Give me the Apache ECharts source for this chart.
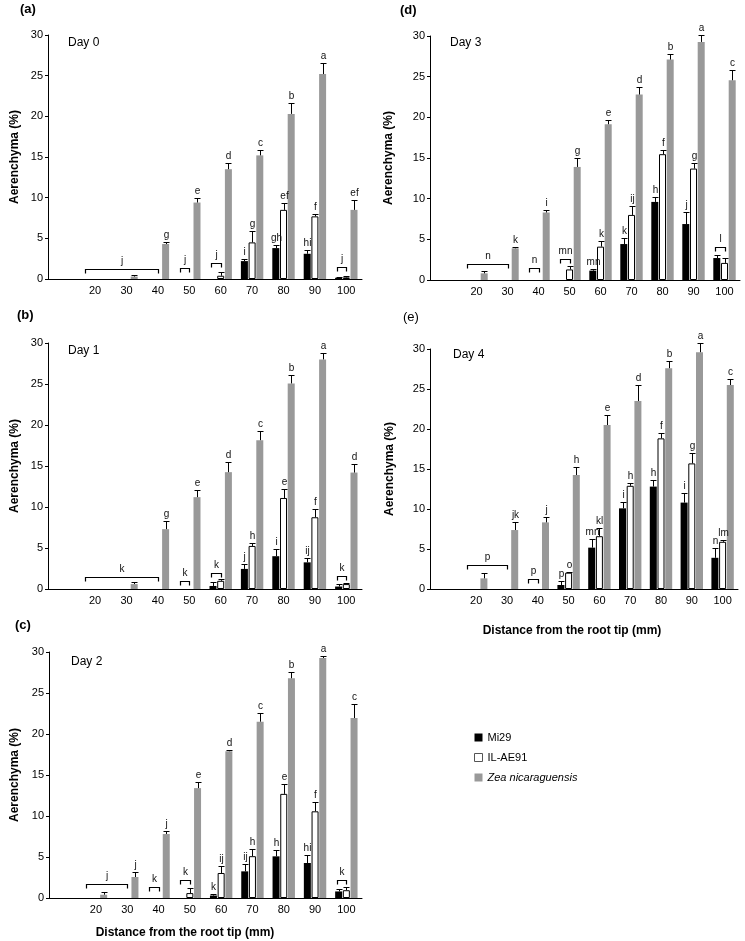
<!DOCTYPE html>
<html>
<head>
<meta charset="utf-8">
<script src="https://cdn.jsdelivr.net/npm/echarts@6/dist/echarts.min.js"></script>
<style>
  html, body { margin: 0; padding: 0; background: #fff; }
  #chart { width: 745px; height: 941px; }
</style>
</head>
<body>
<div id="chart"></div>
<script>
// distance from root tip (mm), first slot of the axis is left empty
const distances = ['20', '30', '40', '50', '60', '70', '80', '90', '100']
const seriesNames = ['Mi29', 'IL-AE91', 'Zea nicaraguensis']

// Day 0 : rows = Mi29, IL-AE91, Zea nicaraguensis
const day0Mean = [
  [0, 0, 0, 0, 0, 2.2, 3.8, 3.1, 0.15],
  [0, 0, 0, 0, 0.4, 4.5, 8.5, 7.7, 0.2],
  [0, 0.3, 4.3, 9.4, 13.5, 15.2, 20.3, 25.2, 8.5]
]
const day0Err = [
  [0, 0, 0, 0, 0, 0.3, 0.4, 0.5, 0.15],
  [0, 0, 0, 0, 0.4, 1.4, 0.8, 0.35, 0.15],
  [0, 0.2, 0.2, 0.55, 0.8, 0.6, 1.4, 1.4, 1.2]
]
const day0Letters = [
  ['', '', '', '', '', 'i', 'gh', 'hi', ''],
  ['', '', '', '', '', 'g', 'ef', 'f', ''],
  ['', '', 'g', 'e', 'd', 'c', 'b', 'a', 'ef']
]
// [from, to, height, letter]
const day0Brackets = [['20', '40', 1.2, 'j'], ['50', '50', 1.35, 'j'], ['60', '60', 2.0, 'j'], ['100', '100', 1.45, 'j']]

// Day 1
const day1Mean = [
  [0, 0, 0, 0, 0.37, 2.45, 4.0, 3.25, 0.3],
  [0, 0, 0, 0, 1.0, 5.25, 11.1, 8.75, 0.6],
  [0, 0.6, 7.3, 11.2, 14.25, 18.15, 25.07, 28.0, 14.2]
]
const day1Err = [
  [0, 0, 0, 0, 0.45, 0.65, 0.85, 0.5, 0.25],
  [0, 0, 0, 0, 0.2, 0.4, 1.1, 0.95, 0.1],
  [0, 0.25, 1.0, 0.9, 1.25, 1.1, 1.0, 0.8, 1.05]
]
const day1Letters = [
  ['', '', '', '', '', 'j', 'i', 'ij', ''],
  ['', '', '', '', '', 'h', 'e', 'f', ''],
  ['', '', 'g', 'e', 'd', 'c', 'b', 'a', 'd']
]
const day1Brackets = [['20', '40', 1.5, 'k'], ['50', '50', 1.0, 'k'], ['60', '60', 1.9, 'k'], ['100', '100', 1.6, 'k']]

// Day 2
const day2Mean = [
  [0, 0, 0, 0, 0.3, 3.25, 5.08, 4.27, 0.8],
  [0, 0, 0, 0.6, 3.05, 5.1, 12.7, 10.57, 0.95],
  [0.4, 2.56, 7.8, 13.4, 17.9, 21.5, 26.8, 29.27, 21.95]
]
const day2Err = [
  [0, 0, 0, 0, 0.2, 0.85, 0.8, 0.97, 0.3],
  [0, 0, 0, 0.6, 0.8, 0.9, 1.2, 1.1, 0.4],
  [0.37, 0.55, 0.4, 0.8, 0.2, 1.05, 0.75, 0.28, 1.7]
]
const day2Letters = [
  ['', '', '', '', 'k', 'ij', 'h', 'hi', ''],
  ['', '', '', '', 'ij', 'h', 'e', 'f', ''],
  ['', 'j', 'j', 'e', 'd', 'c', 'b', 'a', 'c']
]
const day2Brackets = [['20', '30', 1.75, 'j'], ['40', '40', 1.4, 'k'], ['50', '50', 2.2, 'k'], ['100', '100', 2.15, 'k']]

// Day 3
const day3Mean = [
  [0, 0, 0, 0, 1.15, 4.42, 9.6, 6.88, 2.7],
  [0, 0, 0, 1.3, 4.1, 8.0, 15.47, 13.7, 2.1],
  [0.82, 3.9, 8.3, 13.9, 19.15, 22.8, 27.1, 29.27, 24.56]
]
const day3Err = [
  [0, 0, 0, 0, 0.15, 0.7, 0.65, 1.5, 0.35],
  [0, 0, 0, 0.4, 0.7, 1.1, 0.55, 0.67, 0.6],
  [0.33, 0.2, 0.3, 1.1, 0.5, 0.95, 0.7, 0.9, 1.3]
]
const day3Letters = [
  ['', '', '', '', 'mn', 'k', 'h', 'j', ''],
  ['', '', '', '', 'k', 'ij', 'f', 'g', ''],
  ['', 'k', 'i', 'g', 'e', 'd', 'b', 'a', 'c']
]
const day3Brackets = [['20', '30', 1.96, 'n'], ['40', '40', 1.43, 'n'], ['50', '50', 2.54, 'mn'], ['100', '100', 4.1, 'l']]

// Day 4
const day4Mean = [
  [0, 0, 0, 0.5, 5.17, 10.08, 12.8, 10.8, 3.9],
  [0, 0, 0, 2.04, 6.6, 12.9, 18.83, 15.7, 5.9],
  [1.33, 7.37, 8.33, 14.25, 20.5, 23.5, 27.6, 29.6, 25.5]
]
const day4Err = [
  [0, 0, 0, 0.5, 1.08, 0.82, 0.8, 1.16, 1.18],
  [0, 0, 0, 0.05, 1.0, 0.4, 0.67, 1.26, 0.2],
  [0.63, 0.96, 0.71, 1.05, 1.25, 2.0, 0.9, 1.2, 0.75]
]
const day4Letters = [
  ['', '', '', 'p', 'mn', 'i', 'h', 'i', 'n'],
  ['', '', '', 'o', 'kl', 'h', 'f', 'g', 'lm'],
  ['', 'jk', 'j', 'h', 'e', 'd', 'b', 'a', 'c']
]
const day4Brackets = [['20', '30', 3.0, 'p'], ['40', '40', 1.25, 'p']]

const categories = [''].concat(distances)
const colors = ['#000000', '#ffffff', '#999999']
const FONT = 'Liberation Sans, Arial, sans-serif'
const BAR_W = 7
const GAP = 0.1

// where each panel sits on the page
const panels = [
  { tag: '(a)', day: 'Day 0', mean: day0Mean, err: day0Err, letters: day0Letters, brackets: day0Brackets,
    grid: { left: 48, top: 35, width: 314, height: 244 }, tagPos: [20, 9], dayPos: [68, 43], nameGap: 27, bold: true },
  { tag: '(b)', day: 'Day 1', mean: day1Mean, err: day1Err, letters: day1Letters, brackets: day1Brackets,
    grid: { left: 48, top: 343, width: 314, height: 246 }, tagPos: [17, 315], dayPos: [68, 351], nameGap: 27, bold: true },
  { tag: '(c)', day: 'Day 2', mean: day2Mean, err: day2Err, letters: day2Letters, brackets: day2Brackets,
    grid: { left: 49, top: 652, width: 313, height: 246 }, tagPos: [15, 625], dayPos: [71, 662], nameGap: 28, bold: true },
  { tag: '(d)', day: 'Day 3', mean: day3Mean, err: day3Err, letters: day3Letters, brackets: day3Brackets,
    grid: { left: 430, top: 36, width: 310, height: 244 }, tagPos: [400, 10], dayPos: [450, 43], nameGap: 35, bold: true },
  { tag: '(e)', day: 'Day 4', mean: day4Mean, err: day4Err, letters: day4Letters, brackets: day4Brackets,
    grid: { left: 430, top: 349, width: 308, height: 240 }, tagPos: [403, 317], dayPos: [453, 355], nameGap: 34, bold: false }
]

function slotOffset (s) {
  return (s - 1) * BAR_W * (1 + GAP)
}
function px (v) {
  return Math.round(v) + 0.5
}

const chart = echarts.init(document.getElementById('chart'))
const grids = []
const xAxes = []
const yAxes = []
const series = []
const graphics = []

panels.forEach((p, pi) => {
  grids.push(p.grid)
  xAxes.push({
    type: 'category',
    gridIndex: pi,
    data: categories,
    axisLine: { lineStyle: { color: '#000', width: 1 } },
    axisTick: { inside: true, length: 3, interval: 0, lineStyle: { color: '#000' } },
    axisLabel: { interval: 0, fontSize: 11, color: '#000', margin: 6, fontFamily: FONT }
  })
  yAxes.push({
    type: 'value',
    gridIndex: pi,
    min: 0,
    max: 30,
    interval: 5,
    name: 'Aerenchyma (%)',
    nameLocation: 'middle',
    nameGap: p.nameGap,
    nameTextStyle: { fontSize: 12, fontWeight: 'bold', color: '#000', fontFamily: FONT },
    axisLine: { show: true, lineStyle: { color: '#000', width: 1 } },
    axisTick: { show: true, length: 3, lineStyle: { color: '#000' } },
    axisLabel: { fontSize: 11, color: '#000', margin: 5, fontFamily: FONT },
    splitLine: { show: false }
  })

  // bars (zero values are left out so no empty outlines show)
  p.mean.forEach((row, si) => {
    series.push({
      name: seriesNames[si],
      type: 'bar',
      xAxisIndex: pi,
      yAxisIndex: pi,
      barWidth: BAR_W,
      barGap: (GAP * 100) + '%',
      itemStyle: si === 1
        ? { color: colors[si], borderColor: '#000', borderWidth: 1 }
        : { color: colors[si] },
      data: ['-'].concat(row.map(v => v > 0 ? v : '-'))
    })
  })

  // error bars + significance letters
  const items = []
  p.mean.forEach((row, si) => {
    row.forEach((v, ci) => {
      if (v > 0 || p.letters[si][ci]) {
        items.push({ cat: ci + 1, slot: si, v: v, e: p.err[si][ci], letter: p.letters[si][ci] })
      }
    })
  })
  series.push({
    type: 'custom',
    xAxisIndex: pi,
    yAxisIndex: pi,
    clip: false,
    z: 5,
    encode: { x: 0, y: 2 },
    data: items.map(it => [it.cat, it.slot, it.v, it.v + it.e]),
    renderItem: (params, api) => {
      const it = items[params.dataIndex]
      const base = api.coord([api.value(0), api.value(2)])
      const top = api.coord([api.value(0), api.value(3)])
      const x = px(base[0] + slotOffset(api.value(1)))
      const yt = px(top[1])
      const children = []
      if (it.e > 0) {
        children.push({ type: 'line', shape: { x1: x, y1: base[1], x2: x, y2: yt }, style: { stroke: '#000', lineWidth: 1 } })
        children.push({ type: 'line', shape: { x1: x - 3, y1: yt, x2: x + 3, y2: yt }, style: { stroke: '#000', lineWidth: 1 } })
      }
      if (it.letter) {
        children.push({
          type: 'text',
          style: { text: it.letter, x: x, y: yt - 2, align: 'center', verticalAlign: 'bottom', font: '10px ' + FONT, fill: '#111' }
        })
      }
      return { type: 'group', children: children }
    }
  })

  // brackets over groups that have no aerenchyma
  series.push({
    type: 'custom',
    xAxisIndex: pi,
    yAxisIndex: pi,
    clip: false,
    z: 5,
    encode: { x: 0, y: 2 },
    data: p.brackets.map(b => [categories.indexOf(b[0]), categories.indexOf(b[1]), b[2]]),
    renderItem: (params, api) => {
      const b = p.brackets[params.dataIndex]
      const a = api.coord([api.value(0), api.value(2)])
      const c = api.coord([api.value(1), api.value(2)])
      const x1 = px(a[0] + slotOffset(0) - 2)
      const x2 = px(c[0] + slotOffset(1))
      const y = px(a[1])
      return {
        type: 'group',
        children: [
          { type: 'polyline', shape: { points: [[x1, y + 4], [x1, y], [x2, y], [x2, y + 4]] }, style: { stroke: '#000', lineWidth: 1.2, fill: null } },
          { type: 'text', style: { text: b[3], x: (x1 + x2) / 2, y: y - 3, align: 'center', verticalAlign: 'bottom', font: '10px ' + FONT, fill: '#111' } }
        ]
      }
    }
  })

  graphics.push({
    type: 'text',
    style: { text: p.tag, x: p.tagPos[0], y: p.tagPos[1], verticalAlign: 'middle', font: (p.bold ? 'bold ' : '') + '13px ' + FONT, fill: '#000' }
  })
  graphics.push({
    type: 'text',
    style: { text: p.day, x: p.dayPos[0], y: p.dayPos[1], verticalAlign: 'middle', font: '12px ' + FONT, fill: '#000' }
  })
})

graphics.push({
  type: 'text',
  style: { text: 'Distance from the root tip (mm)', x: 185, y: 933, align: 'center', verticalAlign: 'middle', font: 'bold 12px ' + FONT, fill: '#000' }
})
graphics.push({
  type: 'text',
  style: { text: 'Distance from the root tip (mm)', x: 572, y: 631, align: 'center', verticalAlign: 'middle', font: 'bold 12px ' + FONT, fill: '#000' }
})

const option = {
  animation: false,
  backgroundColor: '#fff',
  textStyle: { fontFamily: FONT },
  legend: {
    orient: 'vertical',
    left: 469,
    top: 727,
    itemWidth: 8,
    itemHeight: 8,
    itemGap: 9,
    icon: 'rect',
    data: [
      { name: 'Mi29' },
      { name: 'IL-AE91', itemStyle: { color: '#fff', borderColor: '#555', borderWidth: 1 } },
      { name: 'Zea nicaraguensis' }
    ],
    textStyle: {
      fontSize: 11,
      color: '#000',
      fontFamily: FONT,
      rich: { i: { fontStyle: 'italic', fontSize: 11, fontFamily: FONT, color: '#000' } }
    },
    formatter: name => name === 'Zea nicaraguensis' ? '{i|' + name + '}' : name
  },
  grid: grids,
  xAxis: xAxes,
  yAxis: yAxes,
  series: series,
  graphic: graphics
}
chart.setOption(option)
</script>
</body>
</html>
